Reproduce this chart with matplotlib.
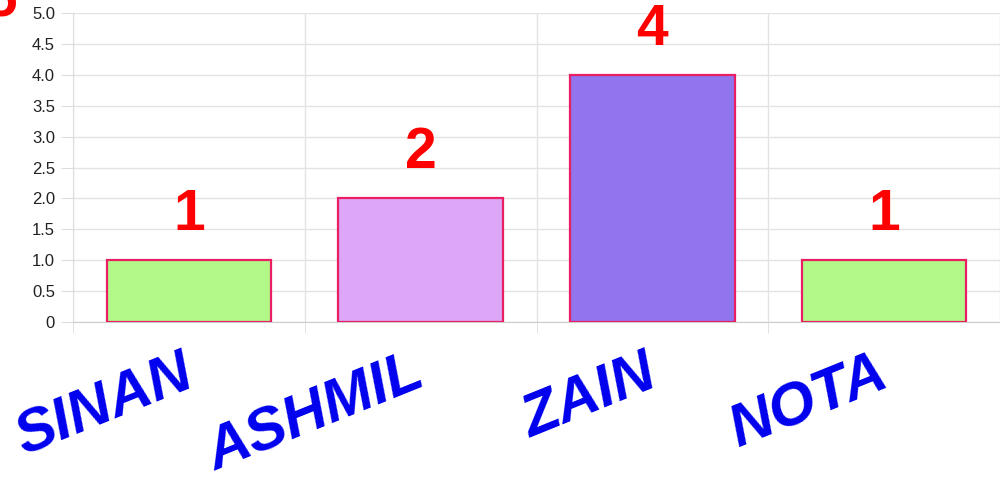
import matplotlib.pyplot as plt
from matplotlib.ticker import FixedLocator
from matplotlib.transforms import ScaledTranslation

# votes per candidate
names = ['SINAN', 'ASHMIL', 'ZAIN', 'NOTA']
votes = [1, 2, 4, 1]
colors = ['#b2f98a', '#dda6f7', '#9175ef', '#b2f98a']
yticks = [0, 0.5, 1.0, 1.5, 2.0, 2.5, 3.0, 3.5, 4.0, 4.5, 5.0]
ylabels = ['0', '0.5', '1.0', '1.5', '2.0', '2.5', '3.0', '3.5', '4.0', '4.5', '5.0']

plt.rcParams['font.family'] = ['Liberation Sans', 'DejaVu Sans']

fig = plt.figure(figsize=(10, 5), dpi=100)
ax = fig.add_axes([0.073, 0.356, 0.927, 0.618])

x = range(len(names))
bars = ax.bar(x, votes, width=0.71, color=colors, edgecolor='#e91e63', linewidth=1.6, zorder=3)

# big red value labels above bars
for b, v in zip(bars, votes):
    ax.annotate(str(v), xy=(b.get_x() + b.get_width() / 2, v), xytext=(0, 13),
                textcoords='offset points', ha='center', va='bottom',
                color='red', fontsize=41, fontweight='bold', clip_on=False)

ax.set_xlim(-0.5, len(names) - 0.5)
ax.set_ylim(0, 5)
ax.set_yticks(yticks)
ax.set_yticklabels(ylabels, fontsize=12, color='#222222')
ax.tick_params(axis='y', length=9, color='#dddddd', pad=4)

ax.set_xticks(list(x))
ax.set_xticklabels(names, rotation=22, ha='right', va='top', rotation_mode='anchor',
                   fontsize=43, fontweight='bold', fontstyle='italic', color='#0000ee')
ax.tick_params(axis='x', which='major', length=0, pad=17)
# nudge the rotated names a bit to the left
shift = ScaledTranslation(-9 / 100, 0, fig.dpi_scale_trans)
for lbl in ax.get_xticklabels():
    lbl.set_transform(lbl.get_transform() + shift)
ax.xaxis.set_minor_locator(FixedLocator([i - 0.5 for i in range(len(names) + 1)]))
ax.tick_params(axis='x', which='minor', length=8, color='#dddddd')

ax.grid(axis='y', color='#e3e3e3', linewidth=1, zorder=0)
ax.grid(axis='x', which='minor', color='#e3e3e3', linewidth=1, zorder=0)
for s in ['top', 'right']:
    ax.spines[s].set_visible(False)
ax.spines['left'].set_color('#dddddd')
ax.spines['bottom'].set_color('#cccccc')

# clipped red digit at the top-left corner
fig.text(0.017, 1 - 16 / 500, '5', ha='right', va='baseline', color='red',
         fontsize=41, fontweight='bold')

fig.savefig('out.png', dpi=100)
